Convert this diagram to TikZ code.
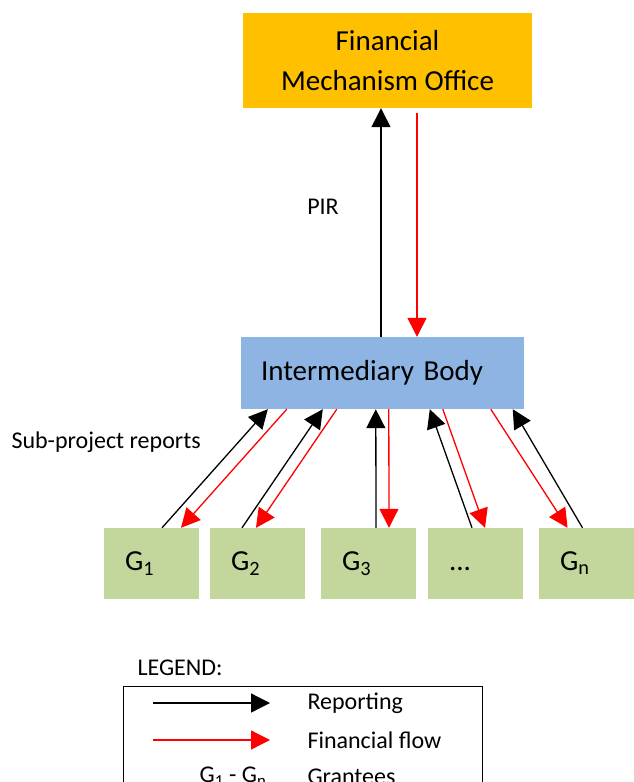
\documentclass[tikz,border=0pt]{standalone}
\usepackage{fontspec}
\setmainfont{Carlito}
\usetikzlibrary{arrows.meta}

\definecolor{fmoorange}{HTML}{FFC000}
\definecolor{ibblue}{HTML}{8DB4E2}
\definecolor{grgreen}{HTML}{C3D69B}

\begin{document}
\begin{tikzpicture}[x=1pt,y=-1pt]
    \tikzstyle{every node}=[font=\fontsize{24}{29}\selectfont]
    \tikzstyle{bigbox}=[rectangle,font=\fontsize{29}{40}\selectfont]
    \tikzstyle{grantee}=[bigbox,fill=grgreen,minimum height=71,
        text width=53,inner xsep=21,align=left,text height=20,text depth=6]
    \tikzstyle{rep}=[line width=1.3pt,-{Triangle[length=19pt,width=19pt]}]
    \tikzstyle{fin}=[rep,red]
    \useasboundingbox (0,0) rectangle (633,782);

    \node[bigbox,fill=fmoorange,minimum width=289,minimum height=95,
        align=center] (fmo) at (387.5,60.5) {Financial\\Mechanism Office};

    \node[bigbox,fill=ibblue,minimum height=72,text width=243,inner xsep=20,
        align=left] (ib) at (382.5,373) {Intermediary Body};

    \node[grantee] (g1) at (151.5,563.5) {G\textsubscript{1}};
    \node[grantee] (g2) at (257.5,563.5) {G\textsubscript{2}};
    \node[grantee] (g3) at (368.5,563.5) {G\textsubscript{3}};
    \node[grantee] (g4) at (475.5,563.5) {...};
    \node[grantee] (gn) at (586.5,563.5) {G\textsubscript{n}};

    \node (pir) at (323,207) {PIR};
    \node[anchor=west] (sub) at (8,442) {Sub-project reports};

    % PIR up, money down
    \draw[rep] ([xshift=-1.5]ib.north) -- ([xshift=-1.5]ib.north |- fmo.south);
    \draw[fin] ([xshift=34.5,yshift=-5pt]ib.north |- fmo.south) -- ([xshift=34.5]ib.north);

    % reports and payments between grantees and the intermediary body
    \draw[rep] ([xshift=10.5]g1.north) -- ([xshift=27]ib.south west);
    \draw[fin] ([xshift=46]ib.south west) -- ([xshift=29.5]g1.north);
    \draw[rep] ([xshift=-15.5]g2.north) -- ([xshift=82]ib.south west);
    \draw[fin] ([xshift=96]ib.south west) -- ([xshift=-1.5]g2.north);
    \draw[rep] ([xshift=7.5]g3.north) -- ([xshift=135]ib.south west);
    \draw[fin] ([xshift=148]ib.south west) -- ([xshift=20.5]g3.north);
    \draw[rep] ([xshift=-3.5]g4.north) -- ([xshift=189]ib.south west);
    \draw[fin] ([xshift=202]ib.south west) -- ([xshift=9.5]g4.north);
    \draw[rep] ([xshift=-4]gn.north) -- ([xshift=272]ib.south west);
    \draw[fin] ([xshift=250]ib.south west) -- ([xshift=-19]gn.north);

    % legend
    \node[anchor=west] (legend) at (134,668) {LEGEND:};
    \draw[line width=0.8pt] (123,686) rectangle (482,800);
    \coordinate (repa) at (153,703);
    \coordinate (repb) at (270,703);
    \coordinate (fina) at (153,740);
    \coordinate (finb) at (270,740);
    \draw[rep] (repa) -- (repb);
    \draw[fin] (fina) -- (finb);
    \node[anchor=west] (lrep) at (304,703) {Reporting};
    \node[anchor=west] (lfin) at (304,740) {Financial flow};
    \node[anchor=west] (lgr) at (304,777) {Grantees};
    \node[anchor=east] (lg) at (270,777) {G\textsubscript{1} - G\textsubscript{n}};
\end{tikzpicture}
\end{document}
